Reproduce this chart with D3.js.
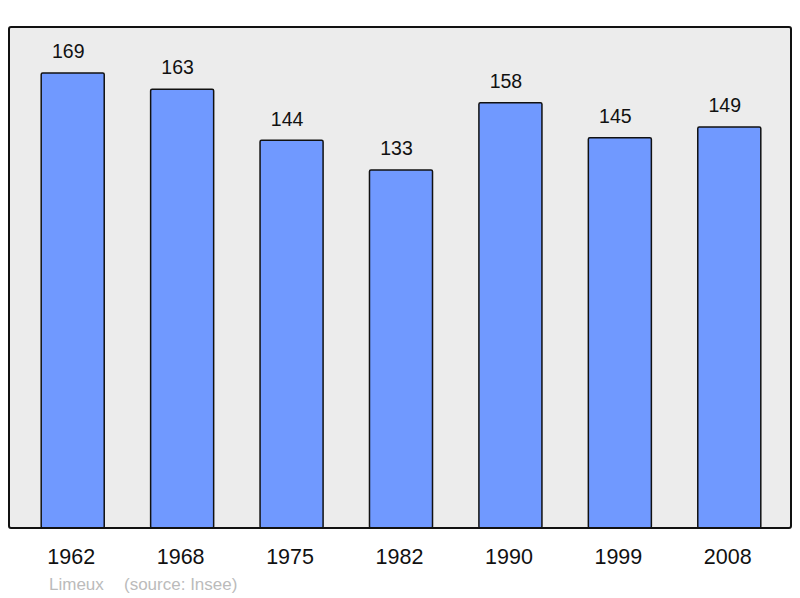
<!DOCTYPE html>
<html>
<head>
<meta charset="utf-8">
<script src="https://cdn.jsdelivr.net/npm/d3@7"></script>
<style>
  body { margin: 0; background: #fff; }
  svg { display: block; font-family: "Liberation Sans", Arial, sans-serif; }
</style>
</head>
<body>
<div id="chart"></div>
<script>
var years = ["1962", "1968", "1975", "1982", "1990", "1999", "2008"]
var population = [169, 163, 144, 133, 158, 145, 149]
var townName = "Limeux"
var sourceText = "(source: Insee)"

var width = 800, height = 598
var frame = {left: 9, top: 27, right: 791, bottom: 528}

var svg = d3.select("#chart").append("svg")
    .attr("width", width)
    .attr("height", height)

// background panel
svg.append("rect")
    .attr("x", frame.left)
    .attr("y", frame.top)
    .attr("width", frame.right - frame.left)
    .attr("height", frame.bottom - frame.top)
    .attr("rx", 2)
    .attr("fill", "#ececec")
    .attr("stroke", "none")

var x = d3.scaleBand()
    .domain(years)
    .range([18, 784])
    .paddingInner(0.424)
    .paddingOuter(0.212)

var y = d3.scaleLinear()
    .domain([0, 186.1])
    .range([frame.bottom, frame.top])

var data = years.map(function(d, i) { return {year: d, value: population[i]} })

svg.selectAll(".bar").data(data)
  .enter().append("rect")
    .attr("class", "bar")
    .attr("x", function(d) { return x(d.year) })
    .attr("y", function(d) { return y(d.value) })
    .attr("width", x.bandwidth())
    .attr("height", function(d) { return y(0) - y(d.value) })
    .attr("rx", 1.5)
    .attr("fill", "#7099ff")
    .attr("stroke", "#111")
    .attr("stroke-width", 1.5)

// value labels sit a little left of the bar centre in the original
svg.selectAll(".valueLabel").data(data)
  .enter().append("text")
    .attr("class", "valueLabel")
    .attr("x", function(d) { return x(d.year) + x.bandwidth() / 2 - 4.5 })
    .attr("y", function(d) { return y(d.value) - 14.7 })
    .attr("text-anchor", "middle")
    .attr("font-size", "19.5px")
    .attr("fill", "#111")
    .text(function(d) { return d.value })

// frame on top
svg.append("rect")
    .attr("x", frame.left)
    .attr("y", frame.top)
    .attr("width", frame.right - frame.left)
    .attr("height", frame.bottom - frame.top)
    .attr("rx", 2)
    .attr("fill", "none")
    .attr("stroke", "#111")
    .attr("stroke-width", 2)

var xAxis = svg.append("g")
    .attr("class", "x-axis")
    .attr("transform", `translate(-1.5,${frame.bottom})`)
    .call(d3.axisBottom(x).tickSize(0).tickPadding(21))

xAxis.select(".domain").remove()
xAxis.selectAll("text")
    .attr("font-family", "Liberation Sans, Arial, sans-serif")
    .attr("font-size", "21.5px")
    .attr("fill", "#111")

svg.append("text")
    .attr("x", 49)
    .attr("y", 590)
    .attr("font-size", "17px")
    .attr("fill", "#bbbbbb")
    .text(townName)

svg.append("text")
    .attr("x", 124)
    .attr("y", 590)
    .attr("font-size", "17px")
    .attr("fill", "#bbbbbb")
    .text(sourceText)
</script>
</body>
</html>
